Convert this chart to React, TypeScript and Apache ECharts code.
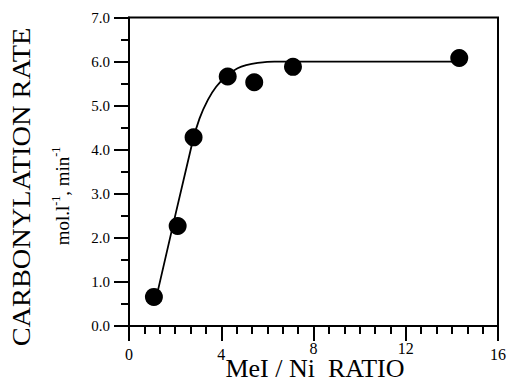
import React, { useEffect, useRef } from "react";
import * as echarts from "echarts";

// Measured MeI / Ni ratios and carbonylation rates (mol.l-1, min-1)
const ratio = [1.08, 2.11, 2.8, 4.28, 5.43, 7.11, 14.32];
const rate = [0.66, 2.27, 4.28, 5.66, 5.53, 5.88, 6.08];

// Hand-drawn trend line through the data
const fitRatio = [1.19, 2.75, 3.06, 3.42, 3.78, 4.28, 4.71, 5.08, 5.58, 6.3, 14.06];
const fitRate = [0.66, 4.17, 4.71, 5.13, 5.43, 5.7, 5.85, 5.92, 5.97, 6.0, 6.0];

// Axis tick labels; 8 and 12 sit a little higher than the rest
const xTickLabels = [0, 4, 8, 12, 16];
const xRaisedLabels = [8, 12];
const yTickLabels = [0, 1, 2, 3, 4, 5, 6, 7];

const SERIF = "Liberation Serif";

export default function App() {
  const ref = useRef<HTMLDivElement>(null);

  useEffect(() => {
    if (!ref.current) return;
    const chart = echarts.init(ref.current, undefined, { renderer: "svg" });

    const points = ratio.map((x, i) => [x, rate[i]]);
    const curve = fitRatio.map((x, i) => [x, fitRate[i]]);
    const xMin = xTickLabels[0];
    const xMax = xTickLabels[xTickLabels.length - 1];

    chart.setOption({
      animation: false,
      backgroundColor: "#fff",
      textStyle: { fontFamily: SERIF, color: "#000" },
      grid: {
        left: 129,
        right: 9,
        top: 17.5,
        bottom: 55,
        show: true,
        borderColor: "#000",
        borderWidth: 2,
        backgroundColor: "transparent",
      },
      xAxis: [
        {
          type: "value",
          min: xMin,
          max: xMax,
          interval: 4,
          axisLine: { show: true, onZero: false, lineStyle: { color: "#000", width: 2 } },
          axisTick: { show: true, inside: false, length: 15, lineStyle: { color: "#000", width: 2 } },
          minorTick: { show: true, splitNumber: 6, length: 8, lineStyle: { color: "#000", width: 2 } },
          splitLine: { show: false },
          axisLabel: {
            margin: 20,
            color: "#000",
            fontFamily: SERIF,
            fontSize: 16,
            formatter: (v: number) => (xRaisedLabels.includes(v) ? "" : String(v)),
          },
        },
        {
          type: "value",
          position: "bottom",
          min: xMin,
          max: xMax,
          interval: 4,
          axisLine: { show: false },
          axisTick: { show: false },
          splitLine: { show: false },
          axisLabel: {
            margin: 14,
            color: "#000",
            fontFamily: SERIF,
            fontSize: 16,
            formatter: (v: number) => (xRaisedLabels.includes(v) ? String(v) : ""),
          },
        },
      ],
      yAxis: {
        type: "value",
        min: yTickLabels[0],
        max: yTickLabels[yTickLabels.length - 1],
        interval: 1,
        axisLine: { show: true, onZero: false, lineStyle: { color: "#000", width: 2 } },
        axisTick: { show: true, inside: false, length: 15, lineStyle: { color: "#000", width: 2 } },
        minorTick: { show: true, splitNumber: 2, length: 8, lineStyle: { color: "#000", width: 2 } },
        splitLine: { show: false },
        axisLabel: {
          margin: 19,
          color: "#000",
          fontFamily: SERIF,
          fontSize: 15,
          formatter: (v: number) => v.toFixed(1),
        },
      },
      graphic: [
        {
          type: "text",
          x: 21,
          y: 187,
          rotation: Math.PI / 2,
          scaleX: 1.09,
          style: {
            text: "CARBONYLATION RATE",
            fontFamily: SERIF,
            fontSize: 26,
            fill: "#000",
            textAlign: "center",
            textVerticalAlign: "middle",
          },
        },
        {
          type: "text",
          x: 61,
          y: 196,
          rotation: Math.PI / 2,
          style: {
            text: "{n|mol.l}{s|-1}{n|, min}{s|-1}",
            fill: "#000",
            textAlign: "center",
            textVerticalAlign: "middle",
            rich: {
              n: { fontFamily: SERIF, fontSize: 19, fill: "#000", lineHeight: 22, verticalAlign: "bottom" },
              s: { fontFamily: SERIF, fontSize: 12, fill: "#000", lineHeight: 12, verticalAlign: "top" },
            },
          },
        },
        {
          type: "text",
          x: 315,
          y: 368,
          style: {
            text: "MeI / Ni\u00a0\u00a0RATIO",
            fontFamily: SERIF,
            fontSize: 26,
            fill: "#000",
            textAlign: "center",
            textVerticalAlign: "middle",
          },
        },
      ],
      series: [
        {
          type: "line",
          data: curve,
          showSymbol: false,
          smooth: 0.25,
          lineStyle: { color: "#000", width: 1.8 },
          z: 2,
        },
        {
          type: "scatter",
          data: points,
          symbol: "circle",
          symbolSize: 18,
          itemStyle: { color: "#000", opacity: 1 },
          z: 3,
        },
      ],
    });

    return () => chart.dispose();
  }, []);

  return (
    <div
      ref={ref}
      style={{ position: "absolute", left: 0, top: 0, width: 509, height: 381 }}
    />
  );
}
